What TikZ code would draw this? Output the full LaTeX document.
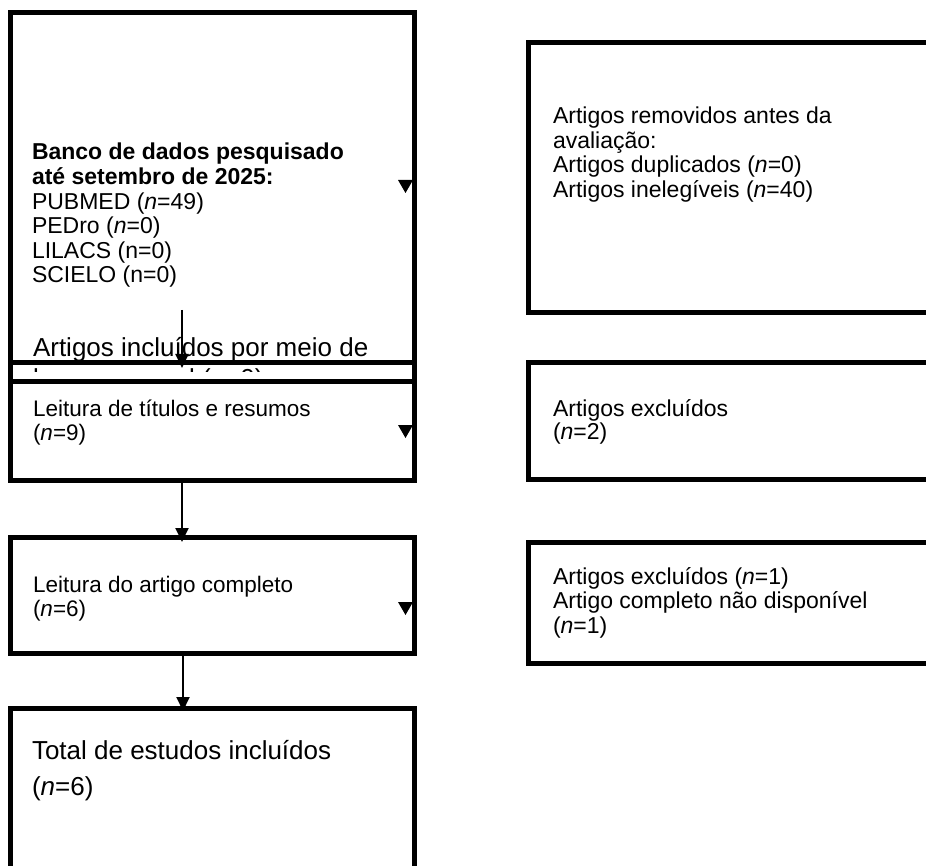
\documentclass[tikz,border=0pt]{standalone}
\usepackage{fontspec}
\setmainfont{Liberation Sans}
\usetikzlibrary{arrows.meta}
\tikzset{
  boxnode/.style={draw, line width=5pt, inner sep=0pt, outer sep=0pt, anchor=north west},
  txt/.style={inner sep=0pt, outer sep=0pt, anchor=base west, align=left},
  arr/.style={line width=2pt, -{Triangle[length=14pt,width=13pt]}},
  tip/.style={fill=black}
}
\begin{document}
\begin{tikzpicture}[x=1pt,y=-1pt]
\useasboundingbox (0,0) rectangle (926,866);
\clip (0,0) rectangle (926,866);
% left column boxes
\node[boxnode, minimum width=404pt, minimum height=350pt] (b1) at (10,13) {};
\node[boxnode, minimum width=404pt, minimum height=18pt] (bm) at (10,363) {};
\node[boxnode, minimum width=404pt, minimum height=99pt] (b2) at (10,381) {};
\node[boxnode, minimum width=404pt, minimum height=116pt] (b3) at (10,537) {};
\node[boxnode, minimum width=404pt, minimum height=170pt] (b4) at (10,708) {};
% right column boxes
\node[boxnode, minimum width=410pt, minimum height=270pt] (r1) at (528,43) {};
\node[boxnode, minimum width=410pt, minimum height=116pt] (r2) at (528,363) {};
\node[boxnode, minimum width=410pt, minimum height=121pt] (r3) at (528,542) {};
% texts (anchor = baseline of the last line)
\node[txt, font=\fontsize{23}{24.6}\selectfont] (t1) at (32,283)
  {\textbf{Banco de dados pesquisado}\\\textbf{até setembro de 2025:}\\PUBMED (\textit{n}=49)\\PEDro (\textit{n}=0)\\LILACS (n=0)\\SCIELO (n=0)};
\node[txt, font=\fontsize{26}{30}\selectfont] (tm) at (33,357) {Artigos incluídos por meio de};
\begin{scope}
  \clip (12,366) rectangle (412,371.5);
  \node[txt, font=\fontsize{26}{30}\selectfont] (tm2) at (33,388) {busca manual (\textit{n}=0)};
\end{scope}
\node[txt, font=\fontsize{22.5}{24}\selectfont] (t2) at (33,440) {Leitura de títulos e resumos\\(\textit{n}=9)};
\node[txt, font=\fontsize{22.5}{24}\selectfont] (t3) at (33,616) {Leitura do artigo completo\\(\textit{n}=6)};
\node[txt, font=\fontsize{26}{36}\selectfont] (t4) at (32,795) {Total de estudos incluídos\\(\textit{n}=6)};
\node[txt, font=\fontsize{23}{24.5}\selectfont] (s1) at (553,197.5) {Artigos removidos antes da\\avaliação:\\Artigos duplicados (\textit{n}=0)\\Artigos inelegíveis (\textit{n}=40)};
\node[txt, font=\fontsize{23}{23.5}\selectfont] (s2) at (553,439.5) {Artigos excluídos\\(\textit{n}=2)};
\node[txt, font=\fontsize{23}{24.5}\selectfont] (s3) at (553,633) {Artigos excluídos (\textit{n}=1)\\Artigo completo não disponível\\(\textit{n}=1)};
% vertical arrows
\coordinate (c1) at (182,310);
\coordinate (c2) at (182,0);
\coordinate (c3) at (183,0);
\draw[arr] (c1) -- ([yshift=-5pt]b1.south -| c1);
\draw[arr] (b2.south -| c2) -- ([yshift=-5pt]b3.north -| c2);
\draw[arr] (b3.south -| c3) -- ([yshift=-3pt]b4.north -| c3);
% stray arrow tips
\coordinate (k1) at (405.5,180);
\coordinate (k2) at (405.5,425);
\coordinate (k3) at (405.5,602);
\foreach \k in {k1,k2,k3}
  \fill[tip] ([xshift=-7.5pt]\k) -- ([xshift=7.5pt]\k) -- ([yshift=-13pt]\k) -- cycle;
\end{tikzpicture}
\end{document}
